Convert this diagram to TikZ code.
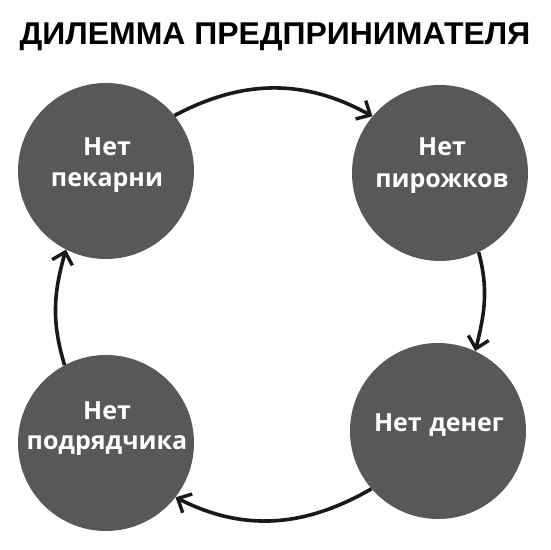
\documentclass[tikz,border=0pt]{standalone}
\usepackage{fontspec}
\setmainfont{Liberation Sans}
\newfontfamily\circfont{Open Sans}
\usetikzlibrary{arrows.meta}
\definecolor{discgray}{RGB}{88,88,88}
\definecolor{inkline}{RGB}{25,25,25}
\tikzset{
  disc/.style={circle, fill=discgray, minimum size=176pt, inner sep=0pt},
  disctext/.style={text=white, font=\circfont\bfseries\fontsize{25}{31}\selectfont, anchor=base, inner sep=0pt},
  flow/.style={draw=inkline, line width=3.6pt, -{Straight Barb[length=11pt,width=21pt,line width=3.4pt]}},
}
\begin{document}
\begin{tikzpicture}[x=1pt,y=1pt]
\fill[white] (0,0) rectangle (550,550);
\useasboundingbox (0,0) rectangle (550,550);
\node[anchor=base, inner sep=0pt, font=\bfseries\fontsize{30}{30}\selectfont] (title) at (275,505) {\scalebox{1.065}[1.05]{ДИЛЕММА ПРЕДПРИНИМАТЕЛЯ}};
\node[disc] (tl) at (106,379) {};
\node[disc] (tr) at (440,377) {};
\node[disc] (br) at (438,119) {};
\node[disc] (bl) at (106,107) {};
\node[disctext] (tla) at (107,394) {Нет};
\node[disctext] (tlb) at (107,363) {пекарни};
\node[disctext] (tra) at (442,394) {Нет};
\node[disctext] (trb) at (442,362) {пирожков};
\node[disctext] (bra) at (439,118) {Нет\hspace{0.3em}денег};
\node[disctext] (bla) at (107,130) {Нет};
\node[disctext] (blb) at (107,100) {подрядчика};
\draw[flow] (tl.39) to[out=28,in=151] (tr.140);
\draw[flow] (tr.-64) to[out=-75,in=76] (br.65);
\draw[flow] (br.-139) to[out=-150,in=-27] (bl.-38);
\draw[flow] (bl.118) to[out=107,in=-106] (tl.-117);
\end{tikzpicture}
\end{document}
